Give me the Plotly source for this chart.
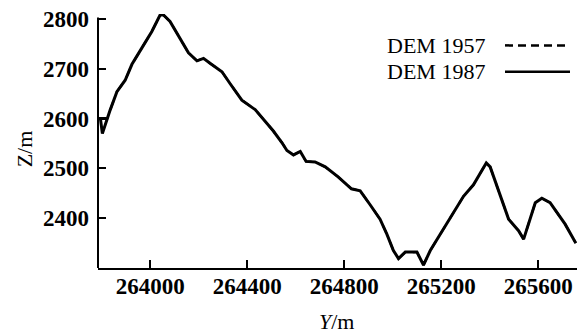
import plotly.graph_objects as go

# Profile distance Y (m)
y_1987 = [263795, 263803, 263835, 263863, 263897, 263925, 263966, 264007, 264041, 264055,
          264082, 264103, 264131, 264158, 264193, 264220, 264247, 264268, 264296, 264330,
          264378, 264433, 264467, 264508, 264543, 264564, 264591, 264619, 264643, 264680,
          264722, 264775, 264830, 264866, 264907, 264948, 264976, 265003, 265024, 265052,
          265100, 265127, 265155, 265196, 265245, 265292, 265333, 265386, 265402, 265443,
          265478, 265519, 265540, 265588, 265615, 265649, 265711, 265755]
z_1987 = [2600, 2570, 2617, 2654, 2677, 2709, 2742, 2775, 2808, 2808,
          2795, 2778, 2755, 2732, 2716, 2721, 2711, 2703, 2694, 2670,
          2637, 2618, 2598, 2575, 2552, 2536, 2527, 2534, 2514, 2513,
          2503, 2483, 2459, 2455, 2427, 2398, 2368, 2335, 2319, 2332,
          2332, 2306, 2335, 2368, 2408, 2444, 2467, 2511, 2503, 2447,
          2398, 2375, 2358, 2431, 2440, 2431, 2388, 2350]

y_1957 = [263788, 263824, 263835, 263863, 263897, 263925, 263966, 264007, 264041, 264055,
          264082, 264103, 264131, 264158, 264193, 264220, 264247, 264268, 264296, 264330,
          264378, 264433, 264467, 264508, 264543, 264564, 264591, 264619, 264643, 264680,
          264722, 264775, 264830, 264866, 264907, 264948, 264976, 265003, 265024, 265052,
          265100, 265127, 265155, 265196, 265245, 265292, 265333, 265386, 265402, 265443,
          265478, 265519, 265540, 265588, 265615, 265649, 265711, 265755]
z_1957 = [2601, 2601, 2617, 2654, 2677, 2709, 2742, 2775, 2808, 2808,
          2795, 2778, 2755, 2732, 2716, 2721, 2711, 2703, 2694, 2670,
          2637, 2618, 2598, 2575, 2552, 2536, 2527, 2534, 2514, 2513,
          2503, 2483, 2459, 2455, 2427, 2398, 2368, 2335, 2319, 2332,
          2332, 2306, 2335, 2368, 2408, 2444, 2467, 2511, 2503, 2447,
          2398, 2375, 2358, 2431, 2440, 2431, 2388, 2350]

x_ticks = [264000, 264400, 264800, 265200, 265600]
z_ticks = [2400, 2500, 2600, 2700, 2800]
series_names = ["DEM 1957", "DEM 1987"]

FONT = "Liberation Serif"

fig = go.Figure()
fig.add_trace(go.Scatter(x=y_1957, y=z_1957, mode="lines", name=series_names[0],
                         line=dict(color="black", width=2.2, dash="dash"), showlegend=False))
fig.add_trace(go.Scatter(x=y_1987, y=z_1987, mode="lines", name=series_names[1],
                         line=dict(color="black", width=3), showlegend=False))

fig.update_layout(
    width=584, height=333,
    margin=dict(l=98, r=7, t=9, b=65),
    paper_bgcolor="white", plot_bgcolor="white",
    font=dict(family=FONT, color="black"),
    xaxis=dict(range=[263785, 265760], tickvals=x_ticks, ticktext=[str(v) for v in x_ticks],
               ticks="inside", ticklen=8, tickwidth=1.5, tickcolor="black",
               showline=True, linecolor="black", linewidth=2, showgrid=False, zeroline=False,
               tickfont=dict(family=FONT, size=23, color="black", weight="bold"),
               ticklabelstandoff=-4),
    yaxis=dict(range=[2300, 2810], tickvals=z_ticks, ticktext=[str(v) for v in z_ticks],
               ticks="inside", ticklen=8, tickwidth=1.5, tickcolor="black",
               showline=False, showgrid=False, zeroline=False,
               tickfont=dict(family=FONT, size=23, color="black", weight="bold"),
               ticklabelstandoff=8),
)

# y-axis line
fig.add_shape(type="line", xref="paper", yref="y", x0=0, x1=0, y0=2300, y1=2803,
              line=dict(color="black", width=2))

# axis titles
fig.add_annotation(text="<i>Y</i>/m", xref="paper", yref="paper", x=(336 - 98) / 479,
                   y=-(323 - 268) / 259, showarrow=False,
                   font=dict(family=FONT, size=22, color="black"), xanchor="center", yanchor="middle")
fig.add_annotation(text="Z/m", xref="paper", yref="paper", x=-(98 - 24) / 479,
                   y=(268 - 147) / 259, showarrow=False, textangle=-90,
                   font=dict(family=FONT, size=22, color="black"), xanchor="center", yanchor="middle")

# legend (manual)
leg_rows = [(41, "8px,5px"), (68, "solid")]
for (py, dash), name in zip(leg_rows, series_names):
    yp = (268 - py) / 259
    fig.add_annotation(text=name, xref="paper", yref="paper", x=(487 - 98) / 479, y=yp,
                       showarrow=False, xanchor="right", yanchor="middle",
                       font=dict(family=FONT, size=22, color="black"))
    fig.add_shape(type="line", xref="paper", yref="paper", x0=(505 - 98) / 479, x1=(570 - 98) / 479,
                  y0=yp, y1=yp, line=dict(color="black", width=2.5, dash=dash))

fig.write_html("out.html", config={"displayModeBar": False},
               post_script="document.body.style.margin='0';document.body.style.padding='0';")
